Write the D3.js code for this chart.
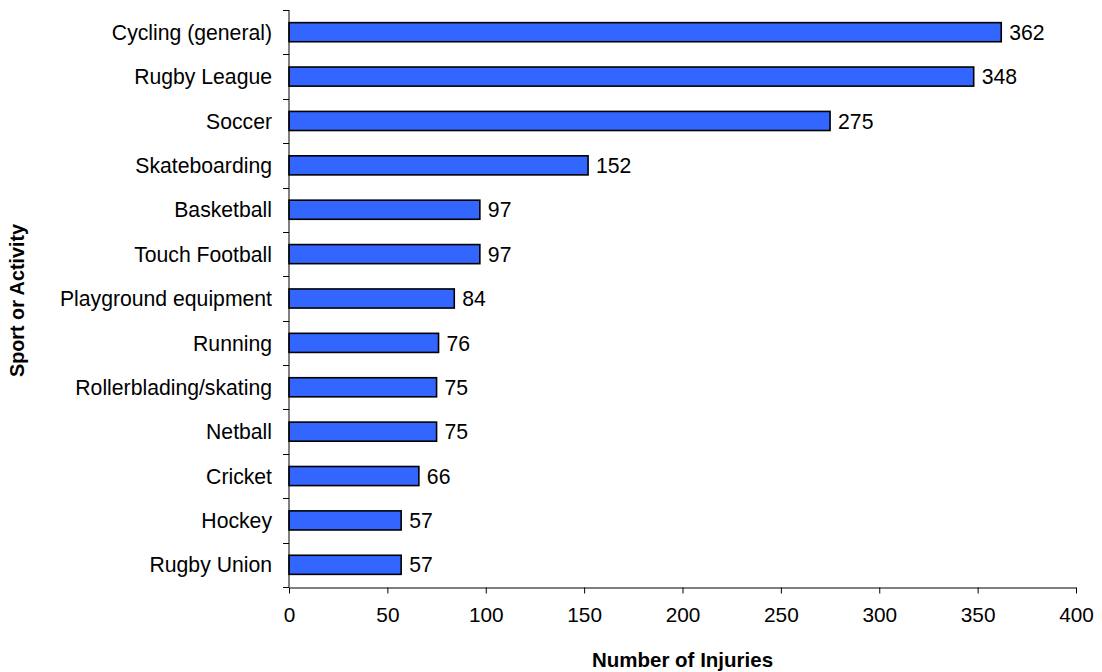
<!DOCTYPE html>
<html>
<head>
<meta charset="utf-8">
<script src="https://cdn.jsdelivr.net/npm/d3@7"></script>
<style>
  html, body { margin: 0; padding: 0; background: #fff; }
  svg text { font-family: "Liberation Sans", Arial, sans-serif; fill: #000; }
</style>
</head>
<body>
<svg id="chart" width="1102" height="672"></svg>
<script>
// Injuries by sport or activity
const categories = [
  "Cycling (general)", "Rugby League", "Soccer", "Skateboarding", "Basketball",
  "Touch Football", "Playground equipment", "Running", "Rollerblading/skating",
  "Netball", "Cricket", "Hockey", "Rugby Union"
];
const injuries = [362, 348, 275, 152, 97, 97, 84, 76, 75, 75, 66, 57, 57];
const xTicks = [0, 50, 100, 150, 200, 250, 300, 350, 400];

const svg = d3.select("#chart");
const margin = { left: 289, right: 26, top: 10, bottom: 85 };
const W = 1102, H = 672;
const labelSize = 21.2;

const x = d3.scaleLinear().domain([0, 400]).range([margin.left, W - margin.right]);
const y = d3.scaleBand().domain(categories).range([margin.top, H - margin.bottom])
  .paddingInner(0.57).paddingOuter(0.285);
const yTicksScale = d3.scaleLinear().domain([0, categories.length]).range([margin.top, H - margin.bottom]);

// bars
svg.append("g").selectAll("rect").data(categories).join("rect")
  .attr("x", x(0))
  .attr("y", d => y(d))
  .attr("width", (d, i) => x(injuries[i]) - x(0))
  .attr("height", y.bandwidth())
  .attr("fill", "#3366FF")
  .attr("stroke", "#000")
  .attr("stroke-width", 1.6);

// value labels
svg.append("g").selectAll("text").data(categories).join("text")
  .attr("x", (d, i) => x(injuries[i]) + 8)
  .attr("y", d => y(d) + y.bandwidth() / 2)
  .attr("dy", "0.36em")
  .attr("font-size", labelSize)
  .text((d, i) => injuries[i]);

// y axis: line with ticks at category boundaries
const gy = svg.append("g");
gy.append("line")
  .attr("x1", x(0)).attr("x2", x(0))
  .attr("y1", yTicksScale(0)).attr("y2", yTicksScale(categories.length))
  .attr("stroke", "#000").attr("stroke-width", 1);
gy.selectAll("line.tick").data(d3.range(categories.length + 1)).join("line")
  .attr("class", "tick")
  .attr("x1", x(0) - 6).attr("x2", x(0))
  .attr("y1", d => Math.round(yTicksScale(d)) + 0.5)
  .attr("y2", d => Math.round(yTicksScale(d)) + 0.5)
  .attr("stroke", "#000");
gy.selectAll("text").data(categories).join("text")
  .attr("x", x(0) - 17)
  .attr("y", d => y(d) + y.bandwidth() / 2)
  .attr("dy", "0.36em")
  .attr("text-anchor", "end")
  .attr("font-size", labelSize)
  .text(d => d);

// x axis
const gx = svg.append("g")
  .attr("transform", `translate(0,${Math.round(yTicksScale(categories.length)) + 0.5})`)
  .call(d3.axisBottom(x).tickValues(xTicks).tickSize(6).tickPadding(14).tickSizeOuter(0));
gx.select(".domain").attr("stroke", "#000");
gx.selectAll(".tick line").attr("stroke", "#000");
gx.selectAll(".tick text")
  .attr("font-size", 20.8)
  .attr("font-family", "Liberation Sans, Arial, sans-serif")
  .attr("fill", "#000");

// axis titles
svg.append("text")
  .attr("x", (x(0) + x(400)) / 2)
  .attr("y", 667)
  .attr("text-anchor", "middle")
  .attr("font-size", 20.5)
  .attr("font-weight", "bold")
  .text("Number of Injuries");

svg.append("text")
  .attr("transform", `translate(24,${(margin.top + H - margin.bottom) / 2 + 2}) rotate(-90)`)
  .attr("text-anchor", "middle")
  .attr("font-size", 19.8)
  .attr("font-weight", "bold")
  .text("Sport or Activity");
</script>
</body>
</html>
